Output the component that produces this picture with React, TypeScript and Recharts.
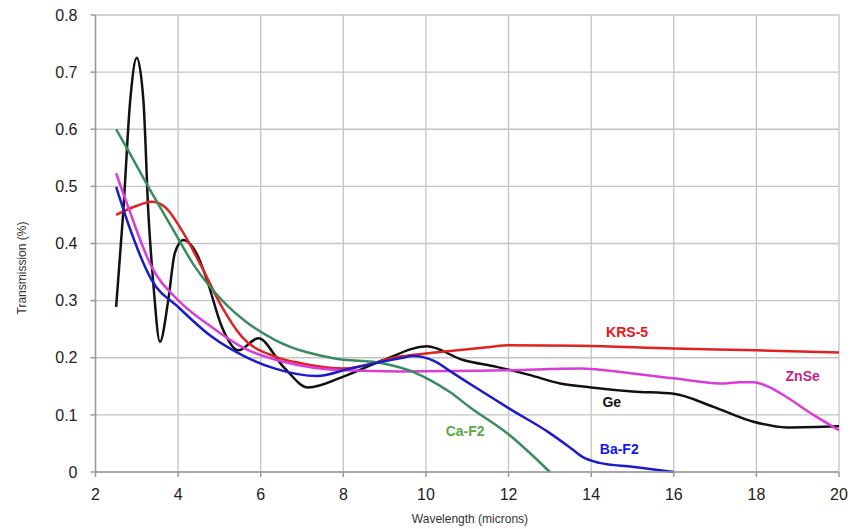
import { LineChart, Line, XAxis, YAxis, CartesianGrid, ReferenceDot } from "recharts";

// wavelength (microns) / transmission per material
const geX = [2.5, 2.67, 2.84, 3.0, 3.16, 3.28, 3.4, 3.56, 3.76, 3.92, 4.13, 4.45, 4.7, 5.06, 5.46, 5.94, 6.55, 7.15, 8.0, 8.97, 10.02, 10.9, 11.71, 12.5, 13.25, 14.0, 15.0, 16.0, 16.96, 17.93, 18.74, 20.0];
const geY = [0.289, 0.453, 0.65, 0.725, 0.65, 0.453, 0.33, 0.228, 0.3, 0.383, 0.406, 0.382, 0.336, 0.254, 0.213, 0.234, 0.184, 0.148, 0.167, 0.196, 0.22, 0.196, 0.184, 0.17, 0.155, 0.148, 0.141, 0.137, 0.114, 0.088, 0.078, 0.08];

const krsX = [2.5, 3.0, 3.36, 3.68, 4.09, 4.57, 5.06, 5.54, 6.35, 7.0, 8.0, 9.37, 10.34, 11.55, 12.0, 13.73, 16.0, 18.0, 20.0];
const krsY = [0.45, 0.466, 0.473, 0.464, 0.423, 0.359, 0.289, 0.237, 0.202, 0.19, 0.181, 0.202, 0.21, 0.219, 0.222, 0.221, 0.216, 0.213, 0.209];

const znseX = [2.5, 2.79, 3.36, 4.0, 4.81, 5.62, 6.55, 8.0, 9.37, 12.0, 13.73, 14.94, 15.99, 17.12, 17.6, 17.93, 18.3, 18.6, 19.38, 20.0];
const znseY = [0.523, 0.464, 0.359, 0.301, 0.254, 0.216, 0.193, 0.178, 0.176, 0.178, 0.181, 0.173, 0.164, 0.155, 0.157, 0.157, 0.149, 0.137, 0.1, 0.073];

const bafX = [2.5, 2.79, 3.36, 4.0, 4.81, 5.62, 6.35, 7.36, 8.16, 9.37, 9.7, 10.18, 10.66, 11.31, 12.04, 13.0, 13.5, 13.8, 14.2, 15.0, 16.0];
const bafY = [0.499, 0.435, 0.336, 0.289, 0.237, 0.202, 0.181, 0.168, 0.181, 0.199, 0.203, 0.195, 0.173, 0.143, 0.11, 0.068, 0.042, 0.026, 0.016, 0.009, 0.0];

const cafX = [2.5, 2.79, 3.28, 3.84, 4.41, 5.06, 5.7, 6.35, 7.76, 8.97, 9.7, 10.1, 10.58, 11.07, 12.0, 13.0];
const cafY = [0.6, 0.563, 0.499, 0.429, 0.359, 0.301, 0.26, 0.231, 0.199, 0.19, 0.175, 0.161, 0.14, 0.113, 0.066, 0.0];

const xTicks = [2, 4, 6, 8, 10, 12, 14, 16, 18, 20];
const yTicks = [0, 0.1, 0.2, 0.3, 0.4, 0.5, 0.6, 0.7, 0.8];

const toPoints = (xs: number[], ys: number[]) => xs.map((x, i) => ({ x, y: ys[i] }));

const series = [
  { name: "Ge", data: toPoints(geX, geY), color: "#111111" },
  { name: "KRS-5", data: toPoints(krsX, krsY), color: "#e02222" },
  { name: "ZnSe", data: toPoints(znseX, znseY), color: "#d93cd9" },
  { name: "Ca-F2", data: toPoints(cafX, cafY), color: "#3a8c60" },
  { name: "Ba-F2", data: toPoints(bafX, bafY), color: "#1c1cc8" },
];

const labels = [
  { text: "KRS-5", x: 14.87, y: 0.245, color: "#f01414" },
  { text: "ZnSe", x: 19.12, y: 0.168, color: "#c81e8c" },
  { text: "Ge", x: 14.5, y: 0.123, color: "#111111" },
  { text: "Ca-F2", x: 10.95, y: 0.072, color: "#5aaa46" },
  { text: "Ba-F2", x: 14.68, y: 0.041, color: "#1414f0" },
];

const font = "'Liberation Sans', Arial, sans-serif";

export default function App() {
  return (
    <div style={{ position: "absolute", left: 0, top: 0, background: "#fff" }}>
      <LineChart width={854} height={529} margin={{ top: 15, right: 15, bottom: 7, left: 0 }}>
        <CartesianGrid stroke="#c4c4c4" strokeWidth={1.3} verticalValues={xTicks} horizontalValues={yTicks} />
        <XAxis
          type="number"
          dataKey="x"
          domain={[2, 20]}
          ticks={xTicks}
          interval={0}
          height={50}
          tickSize={5}
          tickMargin={12}
          stroke="#9a9a9a"
          strokeWidth={1.5}
          tick={{ fontSize: 16, fill: "#222", fontFamily: font }}
          allowDuplicatedCategory={false}
          label={{
            content: () => (
              <text x={470} y={523} textAnchor="middle" fontSize={12} fill="#333" fontFamily={font}>
                Wavelength (microns)
              </text>
            ),
          }}
        />
        <YAxis
          type="number"
          dataKey="y"
          domain={[0, 0.8]}
          ticks={yTicks}
          interval={0}
          width={95.5}
          tickSize={5}
          tickMargin={13}
          stroke="#9a9a9a"
          strokeWidth={1.5}
          tick={{ fontSize: 16, fill: "#222", fontFamily: font }}
          label={{
            content: () => (
              <text
                transform="translate(26,268) rotate(-90)"
                textAnchor="middle"
                fontSize={12}
                fill="#333"
                fontFamily={font}
              >
                Transmission (%)
              </text>
            ),
          }}
        />
        {series.map((s) => (
          <Line
            key={s.name}
            data={s.data}
            dataKey="y"
            name={s.name}
            type="monotone"
            stroke={s.color}
            strokeWidth={2.5}
            dot={false}
            activeDot={false}
            isAnimationActive={false}
          />
        ))}
        {labels.map((l) => (
          <ReferenceDot
            key={l.text}
            x={l.x}
            y={l.y}
            r={0}
            fill="none"
            stroke="none"
            label={{ value: l.text, position: "center", fill: l.color, fontSize: 14, fontWeight: "bold", fontFamily: font }}
          />
        ))}
      </LineChart>
    </div>
  );
}
